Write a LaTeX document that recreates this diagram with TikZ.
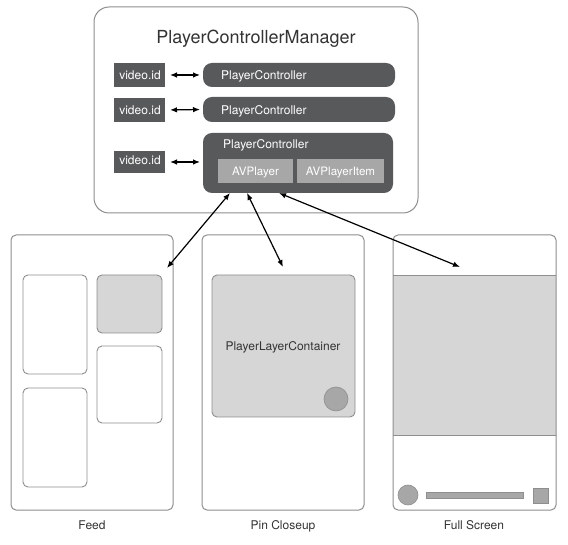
\documentclass[tikz,border=0pt]{standalone}
\usepackage{fontspec}
\setmainfont{TeX Gyre Heros}
\usetikzlibrary{arrows.meta,calc}
\definecolor{darkpill}{HTML}{58595B}
\definecolor{midgray}{HTML}{A7A7A7}
\definecolor{lightfill}{HTML}{D6D6D6}
\definecolor{framecol}{HTML}{8E8E8E}
\definecolor{textcol}{HTML}{333333}
\newcommand{\bx}[6]{\node[#2, minimum width={(#5-#3)*1pt}, minimum height={(#6-#4)*1pt}] (#1) at ({(#3+#5)/2},{(#4+#6)/2}) {};}
\tikzset{
  base/.style={inner sep=0pt, outer sep=0pt},
  mgr/.style={base, draw=framecol, line width=1pt, rounded corners=15pt, fill=white},
  pill/.style={base, fill=darkpill, rounded corners=9pt},
  vid/.style={base, fill=darkpill},
  avbox/.style={base, fill=midgray},
  frame/.style={base, draw=framecol, line width=1pt, rounded corners=5pt},
  card/.style={base, draw=framecol, line width=0.9pt, rounded corners=5pt},
  cardfill/.style={card, fill=lightfill},
  dot/.style={base, circle, fill=midgray, draw=framecol, line width=0.6pt},
  lbl/.style={inner sep=0pt, text=textcol, font=\fontsize{12}{14}\selectfont},
  wlbl/.style={inner sep=0pt, text=white, font=\fontsize{12}{14}\selectfont},
  dbl/.style={{Latex[length=7pt,width=5.5pt]}-{Latex[length=7pt,width=5.5pt]}, line width=1.2pt, black},
}
\begin{document}
\begin{tikzpicture}[x=1pt,y=-1pt]
\useasboundingbox (0,0) rectangle (568,545);
% manager
\bx{mgr}{mgr}{94}{7}{418}{213}
\node[inner sep=0pt, text=textcol, font=\fontsize{18}{20}\selectfont, anchor=base] (title) at (256,44) {PlayerControllerManager};
% rows
\bx{vid1}{vid}{114}{63}{165}{87}
\bx{vid2}{vid}{114}{98}{165}{122}
\bx{vid3}{vid}{114}{151}{165}{173}
\bx{pc1}{pill}{203}{63}{395}{87}
\bx{pc2}{pill}{203}{97}{395}{122}
\bx{pc3}{pill}{203}{133}{393}{193}
\bx{avp}{avbox}{218}{159}{293}{183}
\bx{avi}{avbox}{297}{159}{384}{183}
\node[wlbl, anchor=base] (vt1) at (140,80) {video.id};
\node[wlbl, anchor=base] (vt2) at (140,115) {video.id};
\node[wlbl, anchor=base] (vt3) at (140,165) {video.id};
\node[wlbl, anchor=base west] (pt1) at (221,80) {PlayerController};
\node[wlbl, anchor=base west] (pt2) at (221,115) {PlayerController};
\node[wlbl, anchor=base west] (pt3) at (223,149) {PlayerController};
\node[wlbl, anchor=base, font=\fontsize{11.6}{14}\selectfont] (avpt) at (255.5,176) {AVPlayer};
\node[wlbl, anchor=base, font=\fontsize{11.6}{14}\selectfont] (avit) at (340.5,176) {AVPlayerItem};
\draw[dbl, shorten <=5pt, shorten >=3pt] (vid1.east) -- (pc1.west);
\draw[dbl, shorten <=5pt, shorten >=3pt] (vid2.east) -- (pc2.west);
\draw[dbl, shorten <=5pt, shorten >=3pt] (vid3.east) -- (pc3.west |- vid3.east);
% Feed
\bx{feed}{frame}{11}{235}{173}{510}
\bx{c1}{card}{23}{275}{87}{374}
\bx{c2}{card}{23}{388}{87}{487}
\bx{c3}{cardfill}{97}{275}{162}{333}
\bx{c4}{card}{97}{346}{162}{423}
\node[lbl, anchor=base] (feedl) at (92,529) {Feed};
% Pin closeup
\bx{pin}{frame}{202}{235}{364}{510}
\bx{plc}{cardfill}{212}{275}{355}{417}
\node[lbl, anchor=base] (plct) at (283,351) {PlayerLayerContainer};
\node[dot, minimum size=24pt] (pdot) at (336,399) {};
\node[lbl, anchor=base] (pinl) at (283,529) {Pin Closeup};
% Full screen
\bx{band}{base, fill=lightfill}{393}{275}{556}{435}
\draw[framecol, line width=0.8pt] (band.north west) -- (band.north east);
\draw[framecol, line width=0.8pt] (band.south west) -- (band.south east);
\bx{full}{frame}{393}{235}{556}{510}
\node[dot, minimum size=20pt] (fdot) at (408,495) {};
\bx{bar}{base, fill=midgray, draw=framecol, line width=0.5pt}{426}{492}{523}{498}
\bx{sq}{base, fill=midgray, draw=framecol, line width=0.6pt}{533}{488}{548}{503}
\node[lbl, anchor=base] (fulll) at (474,529) {Full Screen};
% arrows
\coordinate (t1) at (167,268);
\coordinate (t2) at (283,267);
\coordinate (t3) at (460,267);
\draw[dbl] ([xshift=-68pt]pc3.south) -- (t1);
\draw[dbl] ([xshift=-51pt]pc3.south) -- (t2);
\draw[dbl] ([xshift=-19pt]pc3.south) -- (t3);
\end{tikzpicture}
\end{document}
